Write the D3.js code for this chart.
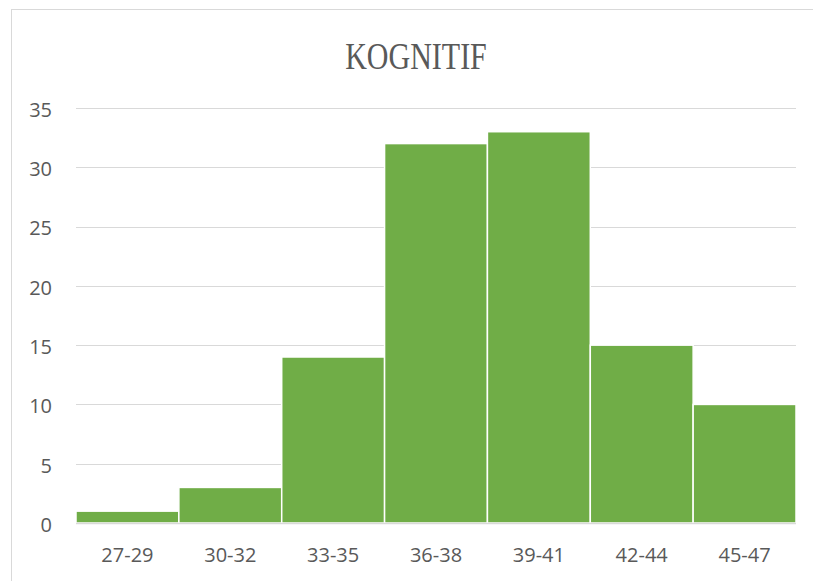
<!DOCTYPE html>
<html><head><meta charset="utf-8">
<script src="https://cdn.jsdelivr.net/npm/d3@7"></script>
<style>body{margin:0;background:#fff}</style>
</head><body>
<svg id="c" width="813" height="581"></svg>
<script>
const categories = ["27-29","30-32","33-35","36-38","39-41","42-44","45-47"];
const values = [1,3,14,32,33,15,10];
const yTicks = [0,5,10,15,20,25,30,35];
const title = "KOGNITIF";

const svg = d3.select("#c");
const W = 813, H = 581;
const m = {left:76, right:17, top:108, bottom:58};

svg.append("rect").attr("x",11.5).attr("y",9.5).attr("width",W+10).attr("height",H+10)
  .attr("fill","#fff").attr("stroke","#d9d9d9").attr("stroke-width",1);

const x = d3.scaleBand().domain(categories).range([m.left, W-m.right]).padding(0);
const y = d3.scaleLinear().domain([0,35]).range([H-m.bottom, m.top]);

const tickFont = "'Open Sans', sans-serif";

// gridlines
svg.append("g").selectAll("line").data(yTicks.filter(d=>d>0)).join("line")
  .attr("x1",m.left).attr("x2",W-m.right)
  .attr("y1",d=>Math.round(y(d))+0.5).attr("y2",d=>Math.round(y(d))+0.5)
  .attr("stroke","#d9d9d9").attr("stroke-width",1);

// bars
svg.append("g").selectAll("rect").data(values).join("rect")
  .attr("x",(d,i)=>x(categories[i]))
  .attr("width",x.bandwidth())
  .attr("y",d=>y(d))
  .attr("height",d=>y(0)-y(d))
  .attr("fill","#70ad47")
  .attr("stroke","#ffffff").attr("stroke-width",1.5);

// baseline axis
svg.append("line").attr("x1",m.left).attr("x2",W-m.right)
  .attr("y1",y(0)+0.5).attr("y2",y(0)+0.5)
  .attr("stroke","#d9d9d9").attr("stroke-width",1.5);

// y labels
const yAxis = d3.axisLeft(y).tickValues(yTicks).tickSize(0).tickPadding(0);
const ga = svg.append("g").attr("transform",`translate(52,2)`).call(yAxis);
ga.select(".domain").remove();
ga.selectAll("text").attr("font-family",tickFont).attr("font-size",20).attr("fill","#595959");

// x labels
const xAxis = d3.axisBottom(x).tickSize(0).tickPadding(0);
const gx = svg.append("g").attr("transform",`translate(0,${y(0)+25})`).call(xAxis);
gx.select(".domain").remove();
gx.selectAll("text").attr("font-family",tickFont).attr("font-size",20).attr("fill","#595959");

// title
svg.append("text").attr("transform","translate(416,69) scale(1,1.28)")
  .attr("text-anchor","middle")
  .attr("font-family","'Liberation Serif', 'Times New Roman', serif")
  .attr("font-size",30).attr("fill","#595959").text(title);
</script>
</body></html>
